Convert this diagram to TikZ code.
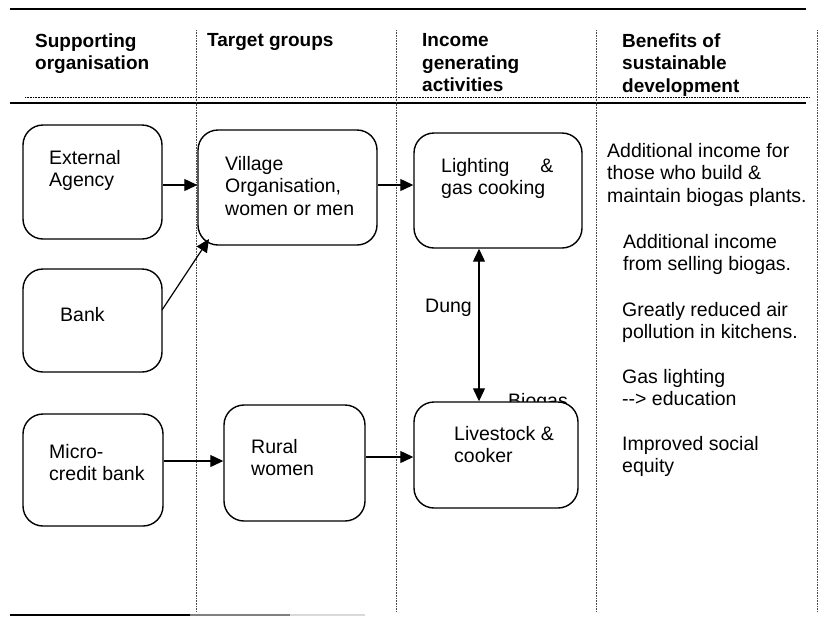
\documentclass[tikz,border=0pt]{standalone}
\usepackage{fontspec}
\setmainfont{Liberation Sans}
\usetikzlibrary{arrows.meta}
\tikzset{
  box/.style={draw, line width=1.4pt, rounded corners=20pt, fill=white, inner sep=0pt},
  txt/.style={anchor=north west, inner sep=0pt, align=left, font=\fontsize{19.5}{22.5}\selectfont},
  head/.style={anchor=north west, inner sep=0pt, align=left, font=\fontsize{19}{22.5}\selectfont\bfseries},
  arr/.style={line width=1.2pt, -{Triangle[length=13pt,width=12pt]}},
  darr/.style={line width=1.2pt, {Triangle[length=13pt,width=12pt]}-{Triangle[length=13pt,width=12pt]}},
  vline/.style={densely dotted, line width=0.6pt, black!70},
}
\begin{document}
\begin{tikzpicture}[x=1pt,y=-1pt]
\useasboundingbox (0,0) rectangle (820,625);
% rules
\draw[line width=2pt] (10,9) -- (806,9);
\draw[densely dotted, line width=0.6pt] (25,97) -- (810,97);
\draw[line width=2pt] (10,103) -- (806,103);
\draw[line width=2pt] (10,615) -- (190,615);
\draw[line width=2pt, black!50] (190,615) -- (290,615);
\draw[line width=2pt, black!15] (290,615) -- (365,615);
% column separators
\foreach \x in {196,396,596,817} \draw[vline] (\x,30) -- (\x,612);
% headers
\node[head] (h1) at (35,33.5) {Supporting\\organisation};
\node[head] (h2) at (207,33.5) {Target groups};
\node[head] (h3) at (422,33.5) {Income\\generating\\activities};
\node[head] (h4) at (622,33.5) {Benefits of\\sustainable\\development};
% partly hidden biogas label
\node[txt] (bio) at (508,393) {Biogas};
% boxes
\node[box, minimum width=139pt, minimum height=114pt] (ext) at (92.5,182) {};
\node[box, minimum width=139pt, minimum height=103pt] (bank) at (92.5,320.5) {};
\node[box, minimum width=140pt, minimum height=112pt] (micro) at (93,470) {};
\node[box, minimum width=179pt, minimum height=115pt] (vil) at (287.5,187.5) {};
\node[box, minimum width=141pt, minimum height=116pt] (rur) at (294.5,463) {};
\node[box, minimum width=168pt, minimum height=115pt] (lig) at (498,190.5) {};
\node[box, minimum width=164pt, minimum height=106pt] (liv) at (496,455) {};
% box texts
\node[txt] (t1) at (49,150) {External\\Agency};
\node[txt] (t2) at (60,307) {Bank};
\node[txt] (t3) at (49,444) {Micro-\\credit bank};
\node[txt] (t4) at (225,156) {Village\\Organisation,\\women or men};
\node[txt] (t5) at (251,439) {Rural\\women};
\node[txt] (t6) at (441,158) {Lighting\hspace{31pt}\&\\gas cooking};
\node[txt] (t7) at (454,426) {Livestock \&\\cooker};
\node[txt] (dung) at (425,299) {Dung};
% right column
\node[txt] (b1) at (607,143) {Additional income for\\those who build \&\\maintain biogas plants.};
\node[txt] (b2) at (623,234) {Additional income\\from selling biogas.};
\node[txt] (b3) at (622,302) {Greatly reduced air\\pollution in kitchens.};
\node[txt] (b4) at (622,369) {Gas lighting\\-{}-> education};
\node[txt] (b5) at (622,436) {Improved social\\equity};
% arrow anchors
\coordinate (a1) at (ext.east |- 0,185);
\coordinate (a2) at (vil.east |- 0,185);
\coordinate (a3) at (micro.east |- 0,461);
\coordinate (a4) at (rur.east |- 0,457);
\coordinate (bs) at (162,310);
\coordinate (ve) at (209,239);
\coordinate (d1) at (lig.south -| 479,0);
\coordinate (d2) at (liv.north -| 479,0);
% arrows
\draw[arr] (a1) -- (vil.west |- a1);
\draw[arr] (a2) -- (lig.west |- a2);
\draw[arr] (bs) -- (ve);
\draw[arr] (a3) -- (rur.west |- a3);
\draw[arr] (a4) -- (liv.west |- a4);
\draw[darr] (d1) -- (d2);
\end{tikzpicture}
\end{document}
